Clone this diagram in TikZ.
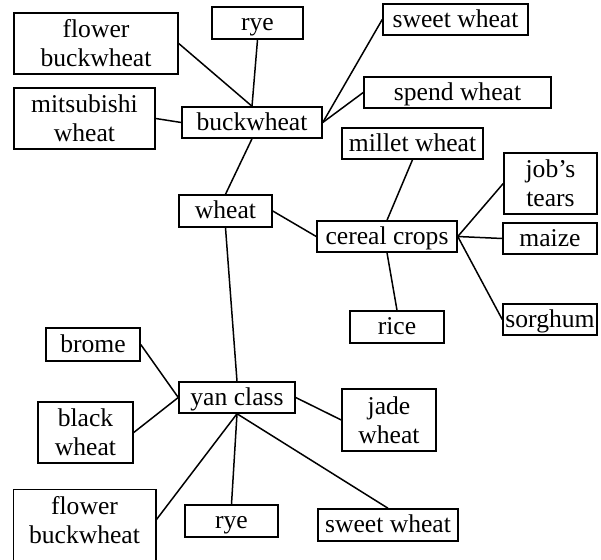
\documentclass[tikz,border=0pt]{standalone}
\usepackage{fontspec}
\setmainfont{Liberation Serif}
\begin{document}
\begin{tikzpicture}[x=1pt, y=-1pt, line width=1.5pt,
		term/.style = {draw, inner sep=0pt, align=center, font=\fontsize{25.6}{29}\selectfont},
		single/.style = {term, text height=20.5pt, text depth=5pt}]
		\useasboundingbox (0,0) rectangle (601,559);
		\clip (0,0) rectangle (601,559);
		% upper group
		\node[term, minimum width=164pt, minimum height=61pt] (flowerA) at (96,43.5) {flower\\buckwheat};
		\node[single, minimum width=91pt, minimum height=32pt] (ryeA) at (257.5,23) {rye};
		\node[term, minimum width=141pt, minimum height=61pt] (mitsubishi) at (84.5,118.5) {mitsubishi\\wheat};
		\node[single, minimum width=140pt, minimum height=31pt] (buckwheat) at (252,122.5) {buckwheat};
		\node[single, minimum width=145pt, minimum height=31pt] (sweetA) at (455.5,19.5) {sweet wheat};
		\node[single, minimum width=187pt, minimum height=31pt] (spend) at (457.5,92.5) {spend wheat};
		\node[single, minimum width=93pt, minimum height=32pt] (wheat) at (225.5,211) {wheat};
		% cereal group
		\node[single, minimum width=141pt, minimum height=31pt] (millet) at (412.5,143.5) {millet wheat};
		\node[term, minimum width=93pt, minimum height=61pt] (jobs) at (550.5,183.5) {job's\\tears};
		\node[single, minimum width=140pt, minimum height=31pt] (cereal) at (387,236.5) {cereal crops};
		\node[single, minimum width=94pt, minimum height=31pt] (maize) at (550,238.5) {maize};
		\node[single, minimum width=94pt, minimum height=31pt] (sorghum) at (550,319.5) {sorghum};
		\node[single, minimum width=94pt, minimum height=32pt] (rice) at (397,327) {rice};
		% lower group
		\node[single, minimum width=94pt, minimum height=33pt] (brome) at (93,344.5) {brome};
		\node[single, minimum width=116pt, minimum height=31pt] (yan) at (237,397.5) {yan class};
		\node[term, minimum width=95pt, minimum height=61pt] (black) at (85.5,432.5) {black\\wheat};
		\node[term, minimum width=94pt, minimum height=62pt] (jade) at (389,420) {jade\\wheat};
		\node[term, draw=none, minimum width=141pt, minimum height=61pt] (flowerB) at (84.5,520.5) {flower\\buckwheat};
		\draw ([yshift=-20pt]flowerB.south west) -- (flowerB.north west) -- (flowerB.north east) -- ([yshift=-20pt]flowerB.south east);
		\node[single, minimum width=93pt, minimum height=32pt] (ryeB) at (231.5,521) {rye};
		\node[single, minimum width=140pt, minimum height=32pt] (sweetB) at (388,525) {sweet wheat};
		% connectors
		\draw (flowerA.east) -- (buckwheat.north);
		\draw (ryeA.south) -- (buckwheat.north);
		\draw (mitsubishi.east) -- (buckwheat.west);
		\draw (buckwheat.east) -- (sweetA.west);
		\draw (buckwheat.east) -- (spend.west);
		\draw (buckwheat.south) -- (wheat.north);
		\draw (wheat.east) -- (cereal.west);
		\draw (wheat.south) -- (yan.north);
		\draw (cereal.north) -- (millet.south);
		\draw (cereal.east) -- (jobs.west);
		\draw (cereal.east) -- (maize.west);
		\draw (cereal.east) -- (sorghum.west);
		\draw (cereal.south) -- (rice.north);
		\draw (brome.east) -- (yan.west);
		\draw (black.east) -- (yan.west);
		\draw (yan.east) -- (jade.west);
		\draw (yan.south) -- (flowerB.east);
		\draw (yan.south) -- (ryeB.north);
		\draw (yan.south) -- (sweetB.north);
\end{tikzpicture}
\end{document}
